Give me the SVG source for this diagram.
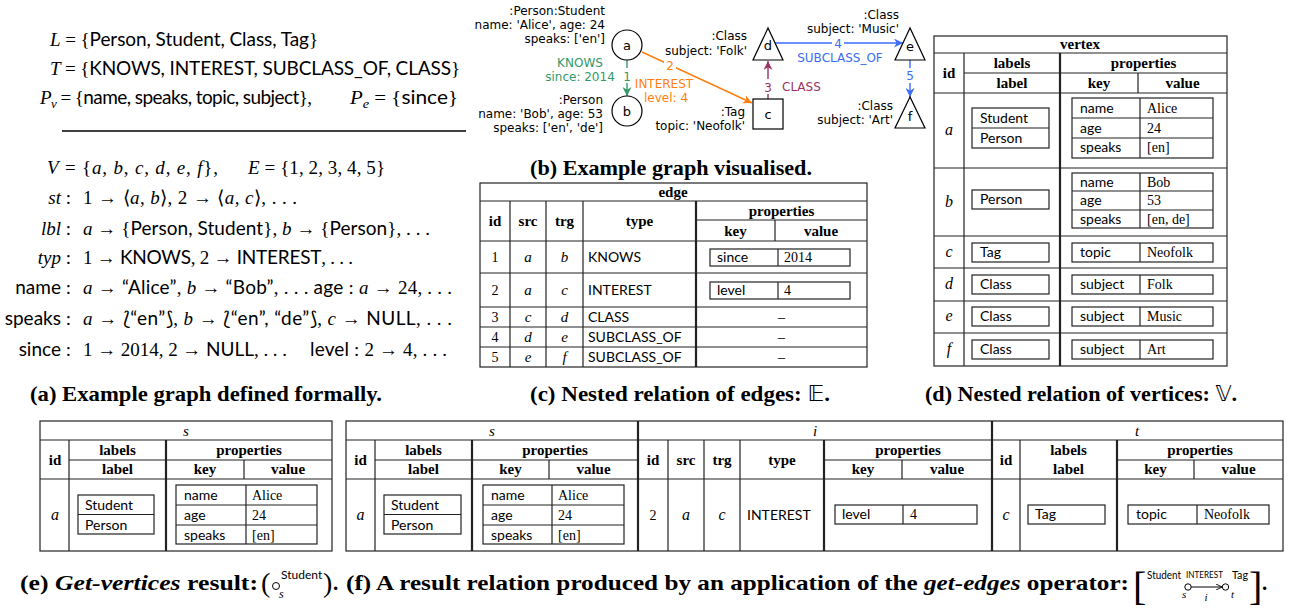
<svg xmlns="http://www.w3.org/2000/svg" width="1289" height="609" viewBox="0 0 1289 609">
<style>
.f{font-family:"Liberation Serif",serif}
.sf{font-family:Lato,"Liberation Sans",sans-serif}
.mi{font-family:"Liberation Serif",serif;font-style:italic}
.g{font-family:"DejaVu Sans",sans-serif;font-size:12px}
.ge{text-anchor:end}
.gm{text-anchor:middle}
.bx{fill:none;stroke:#222;stroke-width:1.2}
.ln{stroke:#222;stroke-width:1.2}
.tk{stroke:#222;stroke-width:2.2}
.th{font-family:"Liberation Serif",serif;font-weight:bold;font-size:15px;text-anchor:middle}
.td{font-family:Lato,"Liberation Sans",sans-serif;font-size:14px}
.tv{font-family:"Liberation Serif",serif;font-size:14px}
.tc{text-anchor:middle}
.cap{font-family:"Liberation Serif",serif;font-weight:bold;font-size:21px}
.nd{fill:#fff;stroke:#000;stroke-width:1.2}
</style>
<defs>
<marker id="ag" viewBox="0 0 10 10" refX="10" refY="5" markerWidth="9" markerHeight="9" markerUnits="userSpaceOnUse" orient="auto"><path d="M0,0 L10,5 L0,10 L3,5 z" fill="#339966"/></marker>
<marker id="ao" viewBox="0 0 10 10" refX="10" refY="5" markerWidth="9" markerHeight="9" markerUnits="userSpaceOnUse" orient="auto"><path d="M0,0 L10,5 L0,10 L3,5 z" fill="#ff7f0e"/></marker>
<marker id="ap" viewBox="0 0 10 10" refX="10" refY="5" markerWidth="9" markerHeight="9" markerUnits="userSpaceOnUse" orient="auto"><path d="M0,0 L10,5 L0,10 L3,5 z" fill="#993366"/></marker>
<marker id="ab" viewBox="0 0 10 10" refX="10" refY="5" markerWidth="9" markerHeight="9" markerUnits="userSpaceOnUse" orient="auto"><path d="M0,0 L10,5 L0,10 L3,5 z" fill="#3b6cf6"/></marker>
<marker id="ak" viewBox="0 0 10 10" refX="10" refY="5" markerWidth="6" markerHeight="6" markerUnits="userSpaceOnUse" orient="auto"><path d="M0,0 L10,5 L0,10" fill="none" stroke="#000" stroke-width="1.5"/></marker>
</defs>
<rect width="1289" height="609" fill="#fff"/>

<!-- (a) formal definition -->
<g id="formal" class="f" font-size="19">
<text x="50" y="46" textLength="268"><tspan class="mi">L</tspan> = {<tspan class="sf">Person, Student, Class, Tag</tspan>}</text>
<text x="50" y="75" textLength="410"><tspan class="mi">T</tspan> = {<tspan class="sf">KNOWS, INTEREST, SUBCLASS_OF, CLASS</tspan>}</text>
<text x="40" y="104" textLength="272"><tspan class="mi">P</tspan><tspan class="mi" font-size="13" dy="4">v</tspan><tspan dy="-4"> = {</tspan><tspan class="sf">name, speaks, topic, subject</tspan>},</text>
<text x="350" y="104" textLength="108" lengthAdjust="spacingAndGlyphs"><tspan class="mi">P</tspan><tspan class="mi" font-size="13" dy="4">e</tspan><tspan dy="-4"> = {</tspan><tspan class="sf">since</tspan>}</text>
<line x1="62" y1="131" x2="466" y2="131" stroke="#000" stroke-width="1.3"/>
<text x="47" y="174" textLength="171"><tspan class="mi">V</tspan> = {<tspan class="mi">a</tspan>, <tspan class="mi">b</tspan>, <tspan class="mi">c</tspan>, <tspan class="mi">d</tspan>, <tspan class="mi">e</tspan>, <tspan class="mi">f</tspan>},</text>
<text x="248" y="174" textLength="137"><tspan class="mi">E</tspan> = {1, 2, 3, 4, 5}</text>
<text x="71" y="204" text-anchor="end"><tspan class="mi">st</tspan> :</text>
<text x="83" y="204" textLength="214">1 → ⟨<tspan class="mi">a</tspan>, <tspan class="mi">b</tspan>⟩, 2 → ⟨<tspan class="mi">a</tspan>, <tspan class="mi">c</tspan>⟩, . . .</text>
<text x="71" y="235" text-anchor="end"><tspan class="mi">lbl</tspan> :</text>
<text x="83" y="235" textLength="347"><tspan class="mi">a</tspan> → {<tspan class="sf">Person, Student</tspan>}, <tspan class="mi">b</tspan> → {<tspan class="sf">Person</tspan>}, . . .</text>
<text x="71" y="264" text-anchor="end"><tspan class="mi">typ</tspan> :</text>
<text x="83" y="264" textLength="270">1 → <tspan class="sf">KNOWS</tspan>, 2 → <tspan class="sf">INTEREST</tspan>, . . .</text>
<text x="71" y="294" text-anchor="end"><tspan class="sf">name</tspan> :</text>
<text x="83" y="294" textLength="369"><tspan class="mi">a</tspan> → <tspan class="sf">“Alice”</tspan>, <tspan class="mi">b</tspan> → <tspan class="sf">“Bob”</tspan>, . . . <tspan class="sf">age</tspan> :  <tspan class="mi">a</tspan> → 24, . . .</text>
<text x="71" y="325" text-anchor="end"><tspan class="sf">speaks</tspan> :</text>
<text x="83" y="325" textLength="369"><tspan class="mi">a</tspan> → ⟅<tspan class="sf">“en”</tspan>⟆, <tspan class="mi">b</tspan> → ⟅<tspan class="sf">“en”, “de”</tspan>⟆, <tspan class="mi">c</tspan> → <tspan class="sf">NULL</tspan>, . . .</text>
<text x="71" y="356" text-anchor="end"><tspan class="sf">since</tspan> :</text>
<text x="83" y="356" textLength="204">1 → 2014, 2 → <tspan class="sf">NULL</tspan>, . . .</text>
<text x="310" y="356" textLength="137"><tspan class="sf">level</tspan> :  2 → 4, . . .</text>
</g>
<text class="cap" x="30" y="401" textLength="352" lengthAdjust="spacingAndGlyphs">(a) Example graph defined formally.</text>

<!-- (b) graph -->
<g id="connectors" class="g">
<line x1="627" y1="60" x2="627" y2="96" stroke="#339966" stroke-width="1.4" marker-end="url(#ag)"/>
<rect x="621" y="68" width="12" height="15" fill="#fff"/>
<text x="627" y="81" class="gm" fill="#339966">1</text>
<text x="580" y="67" class="gm" fill="#339966">KNOWS</text>
<text x="580" y="81" class="gm" fill="#339966">since: 2014</text>
<line x1="642" y1="52" x2="752" y2="103" stroke="#ff7f0e" stroke-width="1.4" marker-end="url(#ao)"/>
<rect x="664" y="58" width="12" height="15" fill="#fff"/>
<text x="670" y="70" class="gm" fill="#ff7f0e">2</text>
<text x="664" y="88" class="gm" fill="#ff7f0e">INTEREST</text>
<text x="666" y="102" class="gm" fill="#ff7f0e">level: 4</text>
<line x1="768" y1="99" x2="768" y2="61" stroke="#993366" stroke-width="1.4" marker-end="url(#ap)"/>
<rect x="762" y="79" width="12" height="15" fill="#fff"/>
<text x="768" y="92" class="gm" fill="#993366">3</text>
<text x="782" y="91" fill="#993366">CLASS</text>
<line x1="775" y1="43" x2="903" y2="43" stroke="#3b6cf6" stroke-width="1.4" marker-end="url(#ab)"/>
<rect x="832" y="36" width="12" height="14" fill="#fff"/>
<text x="838" y="48" class="gm" fill="#3b6cf6">4</text>
<text x="840" y="62" class="gm" fill="#3b6cf6">SUBCLASS_OF</text>
<line x1="910" y1="60" x2="910" y2="97" stroke="#3b6cf6" stroke-width="1.4" marker-end="url(#ab)"/>
<rect x="904" y="68" width="12" height="15" fill="#fff"/>
<text x="910" y="80" class="gm" fill="#3b6cf6">5</text>
</g>
<g id="node-a" class="g">
<circle cx="627" cy="45" r="15" class="nd"/>
<text x="627" y="50" class="gm" font-size="13">a</text>
<text x="605" y="15" class="ge">:Person:Student</text>
<text x="605" y="29" class="ge">name: 'Alice', age: 24</text>
<text x="605" y="43" class="ge">speaks: ['en']</text>
</g>
<g id="node-b" class="g">
<circle cx="627" cy="111" r="15" class="nd"/>
<text x="627" y="116" class="gm" font-size="13">b</text>
<text x="603" y="104" class="ge">:Person</text>
<text x="603" y="118" class="ge">name: 'Bob', age: 53</text>
<text x="603" y="132" class="ge">speaks: ['en', 'de']</text>
</g>
<g id="node-c" class="g">
<rect x="753" y="99" width="30" height="30" class="nd"/>
<text x="768" y="119" class="gm" font-size="13">c</text>
<text x="745" y="116" class="ge">:Tag</text>
<text x="745" y="130" class="ge">topic: 'Neofolk'</text>
</g>
<g id="node-d" class="g">
<polygon points="768,28 753,60 783,60" class="nd"/>
<text x="768" y="50" class="gm" font-size="13">d</text>
<text x="747" y="40" class="ge">:Class</text>
<text x="747" y="55" class="ge">subject: 'Folk'</text>
</g>
<g id="node-e" class="g">
<polygon points="910,28 895,60 925,60" class="nd"/>
<text x="910" y="51" class="gm" font-size="13">e</text>
<text x="899" y="19" class="ge">:Class</text>
<text x="899" y="33" class="ge">subject: 'Music'</text>
</g>
<g id="node-f" class="g">
<polygon points="910,97 895,128 925,128" class="nd"/>
<text x="910" y="121" class="gm" font-size="13">f</text>
<text x="893" y="110" class="ge">:Class</text>
<text x="893" y="124" class="ge">subject: 'Art'</text>
</g>
<text class="cap" x="530" y="175" textLength="282" lengthAdjust="spacingAndGlyphs">(b) Example graph visualised.</text>

<!-- (c) edge table -->
<g id="edge-table">
<rect x="480" y="183" width="387" height="184" class="bx"/>
<line x1="480" y1="201" x2="867" y2="201" class="ln"/>
<line x1="696" y1="220" x2="867" y2="220" class="ln"/>
<line x1="480" y1="241" x2="867" y2="241" class="ln"/>
<line x1="480" y1="273" x2="867" y2="273" class="ln"/>
<line x1="480" y1="307" x2="867" y2="307" class="ln"/>
<line x1="480" y1="327" x2="867" y2="327" class="ln"/>
<line x1="480" y1="347" x2="867" y2="347" class="ln"/>
<line x1="510" y1="201" x2="510" y2="367" class="ln"/>
<line x1="546" y1="201" x2="546" y2="367" class="ln"/>
<line x1="583" y1="201" x2="583" y2="367" class="ln"/>
<line x1="696" y1="201" x2="696" y2="367" class="tk"/>
<line x1="775" y1="220" x2="775" y2="241" class="ln"/>
<text class="th" x="673" y="197">edge</text>
<text class="th" x="495" y="226">id</text>
<text class="th" x="528" y="226">src</text>
<text class="th" x="564.5" y="226">trg</text>
<text class="th" x="639.5" y="226">type</text>
<text class="th" x="781.5" y="216">properties</text>
<text class="th" x="735.5" y="236">key</text>
<text class="th" x="821" y="236">value</text>
<text class="tv tc" x="495" y="262">1</text>
<text class="mi tc" font-size="15" x="528" y="262">a</text>
<text class="mi tc" font-size="15" x="564.5" y="262">b</text>
<text class="td" x="588" y="262">KNOWS</text>
<rect x="710" y="249" width="140" height="17" class="bx"/>
<line x1="778" y1="249" x2="778" y2="266" class="ln"/>
<text class="td" x="717" y="262">since</text>
<text class="tv" x="784" y="262">2014</text>
<text class="tv tc" x="495" y="295">2</text>
<text class="mi tc" font-size="15" x="528" y="295">a</text>
<text class="mi tc" font-size="15" x="564.5" y="295">c</text>
<text class="td" x="588" y="295">INTEREST</text>
<rect x="710" y="282" width="140" height="17" class="bx"/>
<line x1="778" y1="282" x2="778" y2="299" class="ln"/>
<text class="td" x="717" y="295">level</text>
<text class="tv" x="784" y="295">4</text>
<text class="tv tc" x="495" y="322">3</text>
<text class="mi tc" font-size="15" x="528" y="322">c</text>
<text class="mi tc" font-size="15" x="564.5" y="322">d</text>
<text class="td" x="588" y="322">CLASS</text>
<text class="tv tc" x="781.5" y="322">–</text>
<text class="tv tc" x="495" y="342">4</text>
<text class="mi tc" font-size="15" x="528" y="342">d</text>
<text class="mi tc" font-size="15" x="564.5" y="342">e</text>
<text class="td" x="588" y="342">SUBCLASS_OF</text>
<text class="tv tc" x="781.5" y="342">–</text>
<text class="tv tc" x="495" y="362">5</text>
<text class="mi tc" font-size="15" x="528" y="362">e</text>
<text class="mi tc" font-size="15" x="564.5" y="362">f</text>
<text class="td" x="588" y="362">SUBCLASS_OF</text>
<text class="tv tc" x="781.5" y="362">–</text>
</g>
<text class="cap" x="530" y="401" textLength="300" lengthAdjust="spacingAndGlyphs">(c) Nested relation of edges: <tspan font-family="DejaVu Sans" font-weight="normal">𝔼</tspan>.</text>

<!-- (d) vertex table -->
<g id="vertex-table">
<rect x="934" y="36" width="293" height="330" class="bx"/>
<line x1="934" y1="53" x2="1227" y2="53" class="ln"/>
<line x1="964" y1="73" x2="1227" y2="73" class="ln"/>
<line x1="934" y1="93" x2="1227" y2="93" class="ln"/>
<line x1="934" y1="168" x2="1227" y2="168" class="ln"/>
<line x1="934" y1="236" x2="1227" y2="236" class="ln"/>
<line x1="934" y1="268" x2="1227" y2="268" class="ln"/>
<line x1="934" y1="301" x2="1227" y2="301" class="ln"/>
<line x1="934" y1="333" x2="1227" y2="333" class="ln"/>
<line x1="964" y1="53" x2="964" y2="366" class="ln"/>
<line x1="1060" y1="53" x2="1060" y2="366" class="tk"/>
<line x1="1138" y1="73" x2="1138" y2="93" class="ln"/>
<text class="th" x="1080" y="49">vertex</text>
<text class="th" x="949" y="78">id</text>
<text class="th" x="1012" y="68">labels</text>
<text class="th" x="1012" y="88">label</text>
<text class="th" x="1143.5" y="68">properties</text>
<text class="th" x="1099" y="88">key</text>
<text class="th" x="1182.5" y="88">value</text>
<text class="mi tc" font-size="16" x="949" y="135">a</text>
<rect x="972" y="108" width="77" height="40" class="bx"/>
<line x1="972" y1="128" x2="1049" y2="128" class="ln"/>
<text class="td" x="980" y="123">Student</text>
<text class="td" x="980" y="143">Person</text>
<rect x="1072" y="98" width="141" height="60" class="bx"/>
<line x1="1072" y1="118" x2="1213" y2="118" class="ln"/>
<line x1="1072" y1="138" x2="1213" y2="138" class="ln"/>
<line x1="1140" y1="98" x2="1140" y2="158" class="ln"/>
<text class="td" x="1080" y="113">name</text><text class="tv" x="1147" y="113">Alice</text>
<text class="td" x="1080" y="133">age</text><text class="tv" x="1147" y="133">24</text>
<text class="td" x="1080" y="152">speaks</text><text class="tv" x="1147" y="152">[en]</text>
<text class="mi tc" font-size="16" x="949" y="207">b</text>
<rect x="972" y="190" width="77" height="19" class="bx"/>
<text class="td" x="980" y="204">Person</text>
<rect x="1072" y="173" width="141" height="55" class="bx"/>
<line x1="1072" y1="191" x2="1213" y2="191" class="ln"/>
<line x1="1072" y1="210" x2="1213" y2="210" class="ln"/>
<line x1="1140" y1="173" x2="1140" y2="228" class="ln"/>
<text class="td" x="1080" y="187">name</text><text class="tv" x="1147" y="187">Bob</text>
<text class="td" x="1080" y="205">age</text><text class="tv" x="1147" y="205">53</text>
<text class="td" x="1080" y="224">speaks</text><text class="tv" x="1147" y="224">[en, de]</text>
<text class="mi tc" font-size="16" x="949" y="257">c</text>
<rect x="972" y="243" width="77" height="19" class="bx"/>
<text class="td" x="980" y="257">Tag</text>
<rect x="1072" y="243" width="141" height="19" class="bx"/>
<line x1="1140" y1="243" x2="1140" y2="262" class="ln"/>
<text class="td" x="1080" y="257">topic</text><text class="tv" x="1147" y="257">Neofolk</text>
<text class="mi tc" font-size="16" x="949" y="289">d</text>
<rect x="972" y="275" width="77" height="19" class="bx"/>
<text class="td" x="980" y="289">Class</text>
<rect x="1072" y="275" width="141" height="19" class="bx"/>
<line x1="1140" y1="275" x2="1140" y2="294" class="ln"/>
<text class="td" x="1080" y="289">subject</text><text class="tv" x="1147" y="289">Folk</text>
<text class="mi tc" font-size="16" x="949" y="321">e</text>
<rect x="972" y="307" width="77" height="19" class="bx"/>
<text class="td" x="980" y="321">Class</text>
<rect x="1072" y="307" width="141" height="19" class="bx"/>
<line x1="1140" y1="307" x2="1140" y2="326" class="ln"/>
<text class="td" x="1080" y="321">subject</text><text class="tv" x="1147" y="321">Music</text>
<text class="mi tc" font-size="16" x="949" y="354">f</text>
<rect x="972" y="340" width="77" height="19" class="bx"/>
<text class="td" x="980" y="354">Class</text>
<rect x="1072" y="340" width="141" height="19" class="bx"/>
<line x1="1140" y1="340" x2="1140" y2="359" class="ln"/>
<text class="td" x="1080" y="354">subject</text><text class="tv" x="1147" y="354">Art</text>
</g>
<text class="cap" x="925" y="401" textLength="312" lengthAdjust="spacingAndGlyphs">(d) Nested relation of vertices: <tspan font-family="DejaVu Sans" font-weight="normal">𝕍</tspan>.</text>

<!-- (e) get-vertices result -->
<g id="table-e">
<rect x="40" y="421" width="292" height="130" class="bx"/>
<line x1="40" y1="440" x2="332" y2="440" class="ln"/>
<line x1="69" y1="460" x2="332" y2="460" class="ln"/>
<line x1="40" y1="479" x2="332" y2="479" class="ln"/>
<line x1="69" y1="440" x2="69" y2="551" class="ln"/>
<line x1="166" y1="440" x2="166" y2="551" class="tk"/>
<line x1="244" y1="460" x2="244" y2="479" class="ln"/>
<text class="mi tc" font-size="15" x="186" y="436">s</text>
<text class="th" x="55" y="465">id</text>
<text class="th" x="117.5" y="455">labels</text>
<text class="th" x="117.5" y="474">label</text>
<text class="th" x="249" y="455">properties</text>
<text class="th" x="205" y="474">key</text>
<text class="th" x="288" y="474">value</text>
<text class="mi tc" font-size="16" x="55" y="520">a</text>
<rect x="78" y="495" width="76" height="39" class="bx"/>
<line x1="78" y1="514.5" x2="154" y2="514.5" class="ln"/>
<text class="td" x="85" y="510">Student</text>
<text class="td" x="85" y="530">Person</text>
<rect x="176" y="485" width="141" height="59" class="bx"/>
<line x1="176" y1="505" x2="317" y2="505" class="ln"/>
<line x1="176" y1="525" x2="317" y2="525" class="ln"/>
<line x1="246" y1="485" x2="246" y2="544" class="ln"/>
<text class="td" x="184" y="500">name</text><text class="tv" x="252" y="500">Alice</text>
<text class="td" x="184" y="520">age</text><text class="tv" x="252" y="520">24</text>
<text class="td" x="184" y="540">speaks</text><text class="tv" x="252" y="540">[en]</text>
</g>

<!-- (f) get-edges result -->
<g id="table-f">
<rect x="346" y="421" width="937" height="130" class="bx"/>
<line x1="346" y1="440" x2="1283" y2="440" class="ln"/>
<line x1="375" y1="460" x2="638" y2="460" class="ln"/>
<line x1="824" y1="460" x2="992" y2="460" class="ln"/>
<line x1="1117" y1="460" x2="1283" y2="460" class="ln"/>
<line x1="346" y1="479" x2="1283" y2="479" class="ln"/>
<line x1="638" y1="421" x2="638" y2="551" class="tk"/>
<line x1="992" y1="421" x2="992" y2="551" class="tk"/>
<line x1="375" y1="440" x2="375" y2="551" class="ln"/>
<line x1="472" y1="440" x2="472" y2="551" class="tk"/>
<line x1="549" y1="460" x2="549" y2="479" class="ln"/>
<line x1="668" y1="440" x2="668" y2="551" class="ln"/>
<line x1="704" y1="440" x2="704" y2="551" class="ln"/>
<line x1="740" y1="440" x2="740" y2="551" class="ln"/>
<line x1="824" y1="440" x2="824" y2="551" class="tk"/>
<line x1="902" y1="460" x2="902" y2="479" class="ln"/>
<line x1="1020" y1="440" x2="1020" y2="551" class="ln"/>
<line x1="1117" y1="440" x2="1117" y2="551" class="tk"/>
<line x1="1194" y1="460" x2="1194" y2="479" class="ln"/>
<text class="mi tc" font-size="15" x="492" y="436">s</text>
<text class="mi tc" font-size="15" x="815" y="436">i</text>
<text class="mi tc" font-size="15" x="1137" y="436">t</text>
<text class="th" x="360.5" y="465">id</text>
<text class="th" x="423.5" y="455">labels</text>
<text class="th" x="423.5" y="474">label</text>
<text class="th" x="555" y="455">properties</text>
<text class="th" x="510.5" y="474">key</text>
<text class="th" x="593.5" y="474">value</text>
<text class="th" x="653" y="465">id</text>
<text class="th" x="686" y="465">src</text>
<text class="th" x="722" y="465">trg</text>
<text class="th" x="782" y="465">type</text>
<text class="th" x="908" y="455">properties</text>
<text class="th" x="863" y="474">key</text>
<text class="th" x="947" y="474">value</text>
<text class="th" x="1006" y="465">id</text>
<text class="th" x="1068.5" y="455">labels</text>
<text class="th" x="1068.5" y="474">label</text>
<text class="th" x="1200" y="455">properties</text>
<text class="th" x="1155.5" y="474">key</text>
<text class="th" x="1238.5" y="474">value</text>
<text class="mi tc" font-size="16" x="360.5" y="520">a</text>
<rect x="384" y="495" width="77" height="39" class="bx"/>
<line x1="384" y1="514.5" x2="461" y2="514.5" class="ln"/>
<text class="td" x="391" y="510">Student</text>
<text class="td" x="391" y="530">Person</text>
<rect x="483" y="485" width="141" height="59" class="bx"/>
<line x1="483" y1="505" x2="624" y2="505" class="ln"/>
<line x1="483" y1="525" x2="624" y2="525" class="ln"/>
<line x1="552" y1="485" x2="552" y2="544" class="ln"/>
<text class="td" x="491" y="500">name</text><text class="tv" x="558" y="500">Alice</text>
<text class="td" x="491" y="520">age</text><text class="tv" x="558" y="520">24</text>
<text class="td" x="491" y="540">speaks</text><text class="tv" x="558" y="540">[en]</text>
<text class="tv tc" x="653" y="520">2</text>
<text class="mi tc" font-size="16" x="686" y="520">a</text>
<text class="mi tc" font-size="16" x="722" y="520">c</text>
<text class="td" x="747" y="520">INTEREST</text>
<rect x="835" y="505" width="142" height="19" class="bx"/>
<line x1="903" y1="505" x2="903" y2="524" class="ln"/>
<text class="td" x="842" y="519">level</text><text class="tv" x="910" y="519">4</text>
<text class="mi tc" font-size="16" x="1006" y="520">c</text>
<rect x="1028" y="505" width="77" height="19" class="bx"/>
<text class="td" x="1035" y="519">Tag</text>
<rect x="1128" y="505" width="141" height="19" class="bx"/>
<line x1="1197" y1="505" x2="1197" y2="524" class="ln"/>
<text class="td" x="1136" y="519">topic</text><text class="tv" x="1204" y="519">Neofolk</text>
</g>

<!-- captions e, f -->
<g id="caption-e">
<text class="cap" x="20" y="590" textLength="238" lengthAdjust="spacingAndGlyphs">(e) <tspan font-style="italic">Get-vertices</tspan> result:</text>
<text class="f" x="261" y="592" font-size="28">(</text>
<circle cx="276" cy="586" r="3.5" fill="none" stroke="#000" stroke-width="1"/>
<text class="sf" x="281" y="579" font-size="12">Student</text>
<text class="mi" x="279" y="598" font-size="12">s</text>
<text class="f" x="323" y="592" font-size="28">)</text>
<text class="cap" x="333" y="590">.</text>
</g>
<g id="caption-f">
<text class="cap" x="346" y="590" textLength="783" lengthAdjust="spacingAndGlyphs">(f) A result relation produced by an application of the <tspan font-style="italic">get-edges</tspan> operator:</text>
<text class="f" x="1133" y="600" font-size="40">[</text>
<text class="sf" x="1147" y="579" font-size="10.5" textLength="34" lengthAdjust="spacingAndGlyphs">Student</text>
<text class="mi" x="1182" y="598" font-size="11">s</text>
<circle cx="1188" cy="587" r="3.2" fill="none" stroke="#000" stroke-width="1"/>
<line x1="1191" y1="587" x2="1222" y2="587" stroke="#000" stroke-width="1" marker-end="url(#ak)"/>
<text class="sf" x="1186" y="578" font-size="9.5" textLength="37" lengthAdjust="spacingAndGlyphs">INTEREST</text>
<text class="mi" x="1206" y="601" font-size="11" text-anchor="middle">i</text>
<circle cx="1225.5" cy="587" r="3.2" fill="none" stroke="#000" stroke-width="1"/>
<text class="sf" x="1232" y="579" font-size="10.5" textLength="16" lengthAdjust="spacingAndGlyphs">Tag</text>
<text class="mi" x="1231" y="598" font-size="11">t</text>
<text class="f" x="1249" y="600" font-size="40">]</text>
<text class="cap" x="1262" y="590">.</text>
</g>
</svg>
